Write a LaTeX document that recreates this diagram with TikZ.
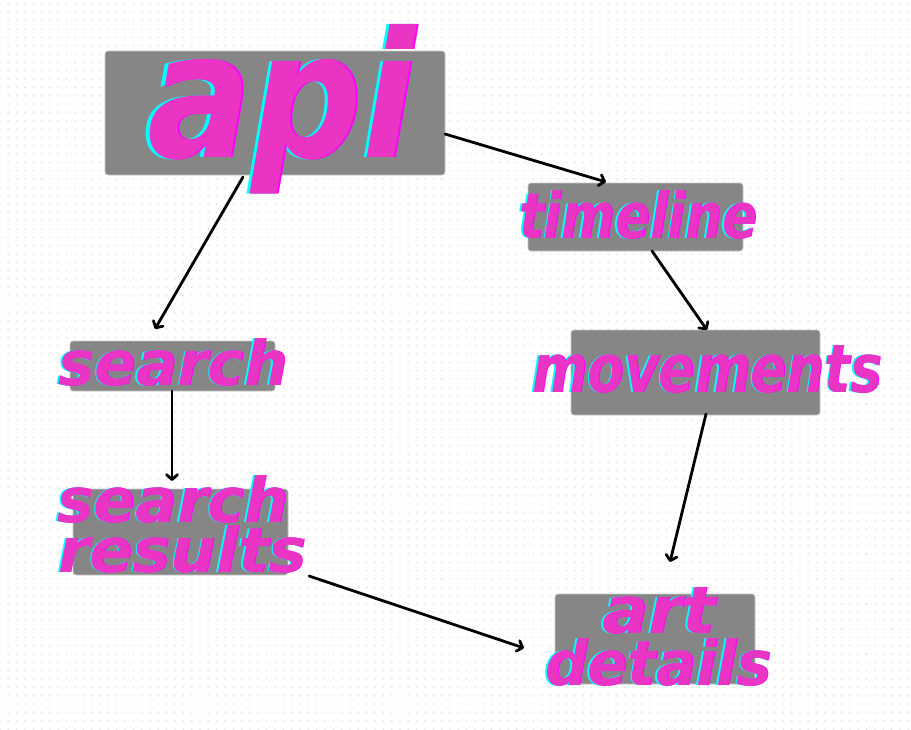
\documentclass[tikz,border=0pt]{standalone}
\usepackage{fontspec}
\usepackage{graphicx}
\newfontfamily\lblfont{DejaVu Sans Bold Oblique}
\usetikzlibrary{arrows.meta,patterns.meta}
\definecolor{boxgray}{RGB}{134,134,134}
\definecolor{boxedge}{RGB}{200,200,200}
\definecolor{gpink}{RGB}{233,52,196}
\definecolor{gcyan}{RGB}{0,255,255}
\definecolor{gmag}{RGB}{255,0,255}
\definecolor{dotc}{RGB}{226,226,226}
\newcommand\glitch[3]{\makebox[0pt][l]{\hspace*{-#1pt}\textcolor{gcyan}{#3}}\makebox[0pt][l]{\hspace*{#2pt}\textcolor{gmag}{#3}}\textcolor{gpink}{#3}}
\newcommand\word[3]{\resizebox{#1pt}{#2pt}{\lblfont #3}}
\tikzset{
  gbox/.style={fill=boxgray, draw=boxedge, line width=0.6pt, rounded corners=3pt, inner sep=0pt},
  gtxt/.style={anchor=base west, inner sep=0pt, outer sep=0pt},
  arr/.style={draw=black, line width=2.8pt, line cap=round, -{Straight Barb[length=5pt,width=11pt,round]}}
}
\begin{document}
\begin{tikzpicture}[x=1pt,y=-1pt]
\useasboundingbox (0,0) rectangle (911,729);
\fill[white] (0,0) rectangle (911,729);
\fill[pattern={Dots[distance=8.333pt,radius=0.9pt]}, pattern color=dotc] (0,0) rectangle (911,729);

% boxes
\node[gbox, minimum width=340pt, minimum height=124pt] (api) at (275,113) {};
\node[gbox, minimum width=215pt, minimum height=68pt] (timeline) at (635.5,217) {};
\node[gbox, minimum width=205pt, minimum height=50pt] (search) at (172.5,366) {};
\node[gbox, minimum width=215pt, minimum height=86pt] (results) at (180.5,532) {};
\node[gbox, minimum width=249pt, minimum height=85pt] (movements) at (695.5,372.5) {};
\node[gbox, minimum width=200pt, minimum height=90pt] (details) at (655,639) {};

% arrows
\coordinate (e1) at (606,182);
\coordinate (e2) at (155,329);
\coordinate (e3) at (707,330);
\coordinate (e4) at (172,481);
\coordinate (e5) at (670,562);
\coordinate (e6) at (524,648);
\coordinate (s1) at (445,134);
\coordinate (s2) at (243,177);
\coordinate (s3) at (652,251);
\coordinate (s4) at (172,391);
\coordinate (s5) at (706,414);
\coordinate (s6) at (309,576);
\draw[arr] (s1) -- (e1);
\draw[arr] (s2) -- (e2);
\draw[arr] (s3) -- (e3);
\draw[arr] (s4) -- (e4);
\draw[arr] (s5) -- (e5);
\draw[arr] (s6) -- (e6);

% texts
\node[gtxt] (tapi) at (147,157) {\glitch{3}{2}{\word{268}{133}{api}}};
\node[gtxt] (ttimeline) at (519,238) {\glitch{1.5}{1}{\word{238}{48}{timeline}}};
\node[gtxt] (tsearch) at (58,385) {\glitch{1.5}{1}{\word{230}{47}{search}}};
\node[gtxt] (tres1) at (57,522) {\glitch{1.5}{1}{\word{231}{47}{search}}};
\node[gtxt] (tres2) at (58,572) {\glitch{1.5}{1}{\word{249}{47}{results}}};
\node[gtxt] (tmove) at (532,392) {\glitch{1.5}{1}{\word{350}{47}{movements}}};
\node[gtxt] (tart) at (602,633) {\glitch{1.5}{1}{\word{113}{46}{art}}};
\node[gtxt] (tdet) at (545,685) {\glitch{1.5}{1}{\word{227}{47}{details}}};
\end{tikzpicture}
\end{document}
